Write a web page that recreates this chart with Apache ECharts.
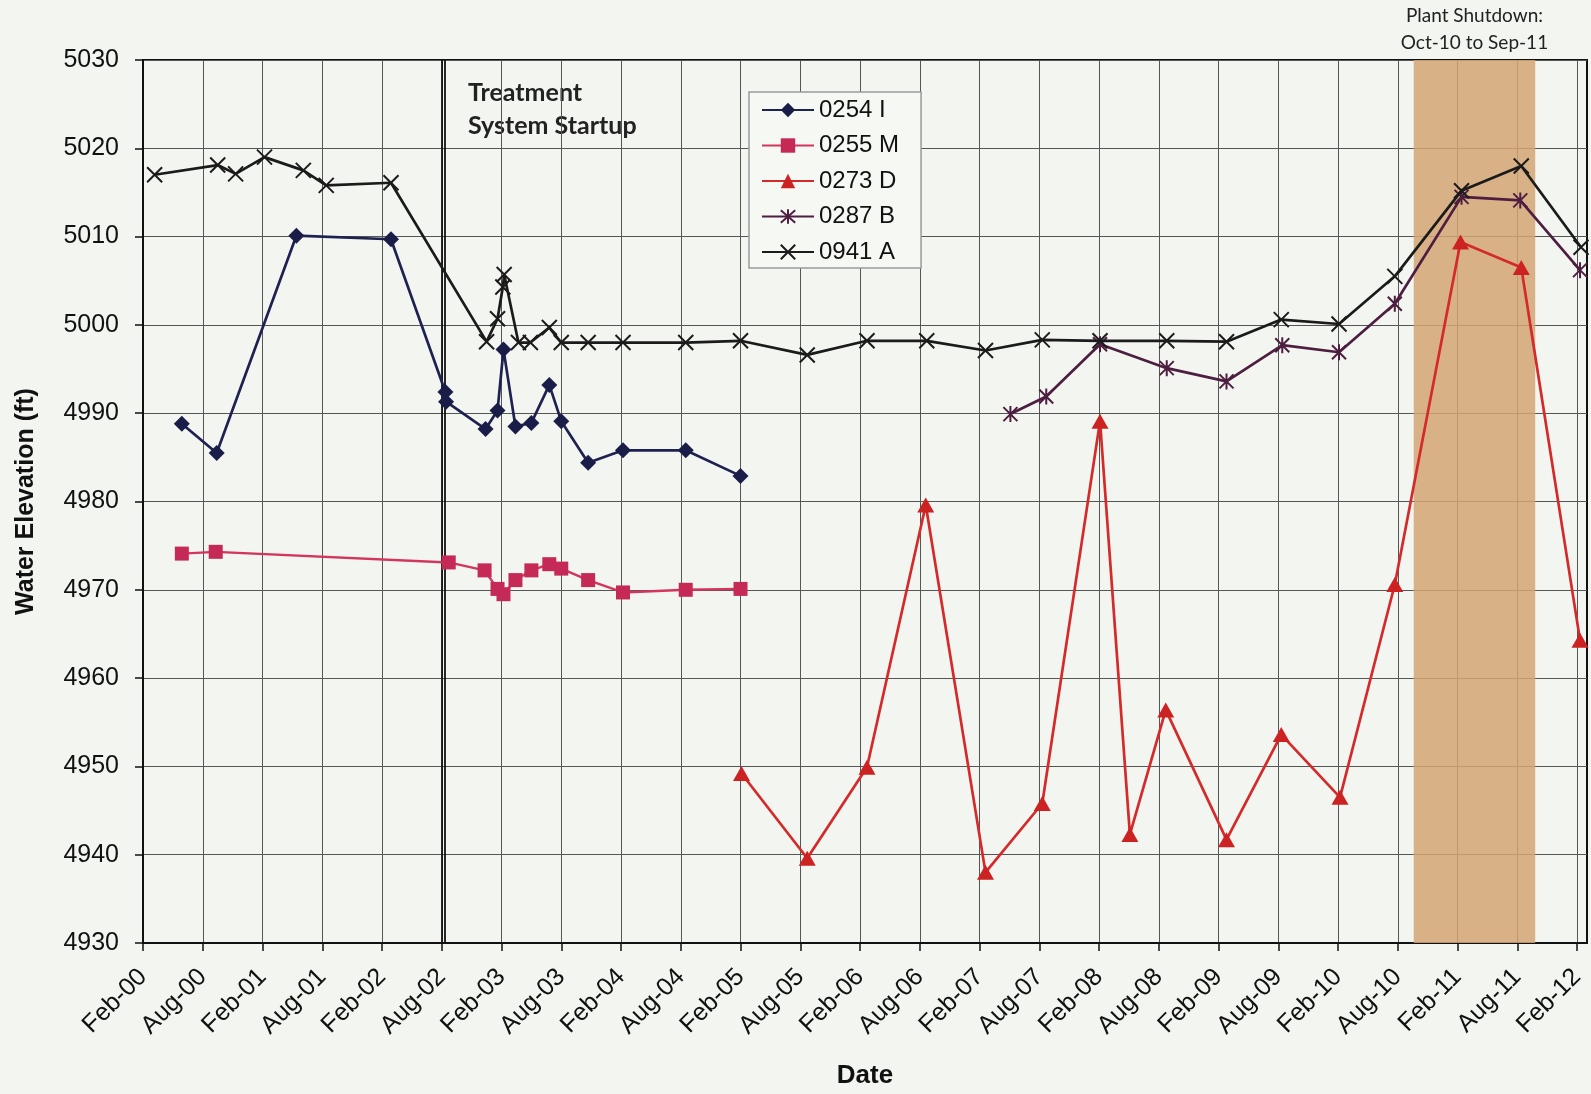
<!DOCTYPE html>
<html>
<head>
<meta charset="utf-8">
<script src="https://cdn.jsdelivr.net/npm/echarts@6/dist/echarts.min.js"></script>
<style>
html,body{margin:0;padding:0;background:#f2f5f0;}
#chart{width:1591px;height:1094px;}
</style>
</head>
<body>
<div id="chart"></div>
<script>
// ---- data (dates, values in ft) ----
const tickLabels = ['Feb-00','Aug-00','Feb-01','Aug-01','Feb-02','Aug-02','Feb-03','Aug-03','Feb-04','Aug-04','Feb-05','Aug-05','Feb-06','Aug-06','Feb-07','Aug-07','Feb-08','Aug-08','Feb-09','Aug-09','Feb-10','Aug-10','Feb-11','Aug-11','Feb-12'];
const yTicks = [4930,4940,4950,4960,4970,4980,4990,5000,5010,5020,5030];

const dates0254 = ['2000-05-28','2000-09-13','2001-05-13','2002-02-28','2002-08-12','2002-08-14','2002-12-13','2003-01-19','2003-02-07','2003-03-13','2003-05-01','2003-06-25','2003-08-01','2003-10-22','2004-02-07','2004-08-16','2005-02-01'];
const vals0254  = [4988.8,4985.5,5010.1,5009.7,4992.4,4991.3,4988.2,4990.3,4997.2,4988.5,4988.9,4993.2,4989.1,4984.4,4985.8,4985.8,4982.9];

const dates0255 = ['2000-05-28','2000-09-10','2002-08-22','2002-12-10','2003-01-19','2003-02-07','2003-03-13','2003-05-01','2003-06-25','2003-08-01','2003-10-22','2004-02-07','2004-08-16','2005-02-01'];
const vals0255  = [4974.1,4974.3,4973.1,4972.2,4970.1,4969.5,4971.1,4972.2,4972.9,4972.4,4971.1,4969.7,4970.0,4970.1];

const dates0273 = ['2005-02-04','2005-08-22','2006-02-22','2006-08-19','2007-02-19','2007-08-10','2008-02-04','2008-05-04','2008-08-22','2009-02-25','2009-08-10','2010-02-07','2010-07-22','2011-02-10','2011-08-13','2012-02-10'];
const vals0273  = [4949.2,4939.6,4949.9,4979.6,4938.0,4945.8,4989.1,4942.3,4956.4,4941.7,4953.6,4946.5,4970.6,5009.4,5006.5,4964.3];

const dates0287 = ['2007-05-04','2007-08-22','2008-02-04','2008-08-25','2009-02-25','2009-08-13','2010-02-04','2010-07-22','2011-02-13','2011-08-10','2012-02-10'];
const vals0287  = [4989.9,4991.9,4997.8,4995.1,4993.6,4997.7,4996.9,5002.4,5014.5,5014.1,5006.2];

const dates0941 = ['2000-03-06','2000-09-16','2000-11-10','2001-02-07','2001-06-04','2001-08-13','2002-02-28','2002-12-16','2003-01-19','2003-02-05','2003-02-09','2003-03-22','2003-04-28','2003-06-25','2003-08-01','2003-10-22','2004-02-07','2004-08-16','2005-02-01','2005-08-22','2006-02-22','2006-08-22','2007-02-19','2007-08-10','2008-02-04','2008-08-25','2009-02-25','2009-08-10','2010-02-04','2010-07-22','2011-02-13','2011-08-13','2012-02-13'];
const vals0941  = [5017.0,5018.1,5017.1,5019.0,5017.5,5015.8,5016.1,4998.1,5000.7,5004.3,5005.7,4998.0,4998.0,4999.7,4998.0,4998.0,4998.0,4998.0,4998.2,4996.6,4998.2,4998.2,4997.1,4998.3,4998.2,4998.2,4998.1,5000.6,5000.1,5005.5,5015.2,5018.0,5008.8];

const startupDates = ['2002-08-01','2002-08-10'];
const shutdownBand = ['2010-09-19','2011-09-25'];
const axisEndDate = '2012-03-01';

// ---- helpers ----
function toM(s){ const p = s.split('-').map(Number); return (p[0]-2000)*12 + (p[1]-2) + (p[2]-1)/30; }
function pairs(ds, vs){ return ds.map((d,i)=>[toM(d), vs[i]]); }

const xTickValues = tickLabels.map((_,i)=>i*6);
const FONT = '"Liberation Sans", Arial, sans-serif';
const xMark = 'path://M-7,-7L7,7M-7,7L7,-7';
const starMark = 'path://M0,-8L0,8M-7,-7L7,7M-7,7L7,-7';

const chart = echarts.init(document.getElementById('chart'), null, {renderer:'canvas'});
const option = {
  backgroundColor:'#f2f5f0',
  animation:false,
  textStyle:{fontFamily:FONT},
  grid:{left:143, right:4, top:60, bottom:149, show:true, borderColor:'#111', borderWidth:2, backgroundColor:'transparent'},
  legend:{
    orient:'vertical', left:749, top:92,
    itemWidth:52, itemHeight:18, itemGap:11.5,
    padding:[6,22,4,12],
    backgroundColor:'#f6f8f4', borderColor:'#9a9a9a', borderWidth:1.5,
    textStyle:{fontSize:24, lineHeight:24, color:'#111', fontFamily:FONT},
    data:['0254 I','0255 M','0273 D','0287 B','0941 A']
  },
  xAxis:{
    type:'value', min:0, max:toM(axisEndDate), interval:6,
    name:'Date', nameLocation:'middle', nameGap:120,
    nameTextStyle:{fontSize:26, fontWeight:'bold', color:'#111', fontFamily:FONT},
    axisLine:{show:true, lineStyle:{color:'#111', width:2}},
    axisTick:{show:true, length:8, lineStyle:{color:'#111', width:1.5}, customValues:xTickValues},
    axisLabel:{fontSize:25, color:'#111', rotate:45, margin:30, customValues:xTickValues,
      formatter:v=>{ const i = Math.round(v/6); return (Math.abs(v - i*6) < 0.01 && tickLabels[i]) ? tickLabels[i] : ''; }},
    splitLine:{show:true, lineStyle:{color:'#555', width:1}}
  },
  yAxis:{
    type:'value', min:yTicks[0], max:yTicks[yTicks.length-1], interval:10,
    name:'Water Elevation (ft)', nameLocation:'middle', nameGap:104,
    nameTextStyle:{fontSize:25, fontWeight:'bold', color:'#111', fontFamily:FONT},
    axisLine:{show:true, lineStyle:{color:'#111', width:2}},
    axisTick:{show:true, length:8, lineStyle:{color:'#111', width:1.5}},
    axisLabel:{fontSize:25, color:'#111', margin:24, formatter:v=>String(v)},
    splitLine:{show:true, lineStyle:{color:'#555', width:1}}
  },
  graphic:[
    {type:'text', left:468, top:76, style:{text:'Treatment\nSystem Startup', font:'bold 25px Lato, "Open Sans", sans-serif', fill:'#222', lineHeight:33}}
  ],
  series:[
    {
      name:'band', type:'line', data:[], silent:true, z:1,
      markArea:{
        silent:true,
        itemStyle:{color:'rgba(212,164,116,0.85)'},
        label:{show:true, position:'top', distance:4, color:'#222', fontSize:19, lineHeight:27,
               fontFamily:'Lato, "Open Sans", sans-serif', formatter:'Plant Shutdown:\nOct-10 to Sep-11'},
        data:[[{xAxis:toM(shutdownBand[0])},{xAxis:toM(shutdownBand[1])}]]
      },
      markLine:{
        silent:true, symbol:['none','none'], label:{show:false},
        lineStyle:{color:'#111', width:1.8, type:'solid'},
        data:startupDates.map(d=>({xAxis:toM(d)}))
      }
    },
    {
      name:'0254 I', type:'line', data:pairs(dates0254, vals0254), z:5,
      symbol:'diamond', symbolSize:16,
      lineStyle:{color:'#1f2250', width:2.7}, itemStyle:{color:'#1a1d47'}
    },
    {
      name:'0255 M', type:'line', data:pairs(dates0255, vals0255), z:5,
      symbol:'rect', symbolSize:14,
      lineStyle:{color:'#d3355d', width:2.4}, itemStyle:{color:'#c42a55'}
    },
    {
      name:'0273 D', type:'line', data:pairs(dates0273, vals0273), z:5,
      symbol:'triangle', symbolSize:[17,15],
      lineStyle:{color:'#d42a2a', width:2.7}, itemStyle:{color:'#cc2222'}
    },
    {
      name:'0287 B', type:'line', data:pairs(dates0287, vals0287), z:5,
      symbol:starMark, symbolSize:16, symbolKeepAspect:true,
      lineStyle:{color:'#4d1e40', width:2.7}, itemStyle:{color:'#4d1e40', borderColor:'#4d1e40', borderWidth:2}
    },
    {
      name:'0941 A', type:'line', data:pairs(dates0941, vals0941), z:6,
      symbol:xMark, symbolSize:15, symbolKeepAspect:true,
      lineStyle:{color:'#1b1b1b', width:2.7}, itemStyle:{color:'#1b1b1b', borderColor:'#1b1b1b', borderWidth:2}
    }
  ]
};
chart.setOption(option);
</script>
</body>
</html>
